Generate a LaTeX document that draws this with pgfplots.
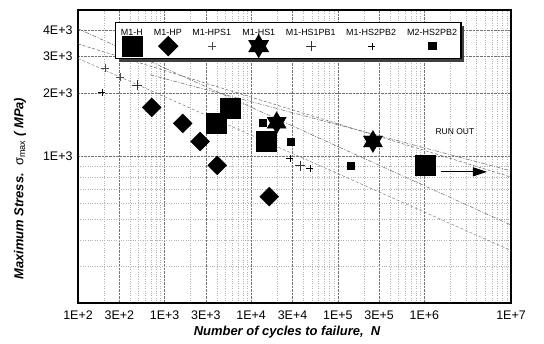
\documentclass[border=0pt]{standalone}
\usepackage{pgfplots}
\pgfplotsset{compat=1.18}
\usepackage{fontspec}
\setmainfont{Liberation Sans}
\usetikzlibrary{arrows.meta,shadows}
\pgfdeclareplotmark{hexstar}{%
  \pgfpathmoveto{\pgfqpointpolar{90}{\pgfplotmarksize}}%
  \pgfpathlineto{\pgfqpointpolar{210}{\pgfplotmarksize}}%
  \pgfpathlineto{\pgfqpointpolar{330}{\pgfplotmarksize}}%
  \pgfpathclose
  \pgfpathmoveto{\pgfqpointpolar{270}{\pgfplotmarksize}}%
  \pgfpathlineto{\pgfqpointpolar{30}{\pgfplotmarksize}}%
  \pgfpathlineto{\pgfqpointpolar{150}{\pgfplotmarksize}}%
  \pgfpathclose
  \pgfusepathqfillstroke
}
\pgfplotsset{legimg/.style={legend image code/.code={\path (0pt,-25pt) (0pt,10pt); \draw[overlay,##1] plot coordinates {(#1,-13pt)};}}}
\begin{document}
\begin{tikzpicture}
\begin{axis}[
  scale only axis, width=433bp, height=293bp,
  xmode=log, ymode=log,
  xmin=100, xmax=1e7, ymin=200, ymax=5000,
  xtick={100,300,1000,3000,10000,30000,100000,300000,1000000,10000000},
  xticklabels={1E+2,3E+2,1E+3,3E+3,1E+4,3E+4,1E+5,3E+5,1E+6,1E+7},
  ytick={1000,2000,3000,4000},
  yticklabels={1E+3,2E+3,3E+3,4E+3},
  minor xtick={200,400,500,600,700,800,900,2000,4000,5000,6000,7000,8000,9000,20000,40000,50000,60000,70000,80000,90000,200000,400000,500000,600000,700000,800000,900000,2000000,3000000,4000000,5000000,6000000,7000000,8000000,9000000},
  minor ytick={300,400,500,600,700,800,900},
  major tick length=0pt, minor tick length=0pt,
  grid=both,
  major grid style={black!55, densely dotted, line width=0.5bp},
  minor grid style={black!30, dotted, line width=0.4bp},
  axis line style={line width=2.5bp},
  tick label style={font=\fontsize{12.5}{14}\selectfont},
  xticklabel style={yshift=-4bp},
  yticklabel style={xshift=-2bp},
  xlabel={\textbf{\textit{Number of cycles to failure,~~N}}},
  xlabel style={font=\fontsize{13}{15}\selectfont, at={(axis description cs:0.483,-0.099)}, anchor=center},
  ylabel={\textbf{\textit{Maximum Stress.}}~~σ\textsubscript{max}~\textbf{\textit{( MPa)}}},
  ylabel style={font=\fontsize{13}{15}\selectfont, at={(axis description cs:-0.134,0.39)}, anchor=center, rotate=0},
  legend columns=7,
  legend style={at={(axis description cs:0.0855,0.959)}, anchor=north west,
    draw=black, line width=1.2bp, fill=white,
    font=\fontsize{9}{10}\selectfont,
    inner xsep=2bp, inner ysep=0bp,
    general shadow={fill=black!75, shadow xshift=3bp, shadow yshift=-3bp},
    /tikz/every even column/.append style={column sep=6bp}},
]
% trend lines
\addplot[forget plot, black!60, dash pattern=on 4pt off 1.5pt on 1pt off 1.5pt, line width=0.5bp] coordinates {(100,4070) (1e7,471)};
\addplot[forget plot, black!60, densely dashed, line width=0.5bp] coordinates {(100,3445) (1e7,798)};
\addplot[forget plot, black!50, dash pattern=on 3pt off 2pt, line width=0.5bp] coordinates {(100,2940) (1e7,356)};
\addplot[forget plot, black!60, dash pattern=on 4pt off 1.5pt on 1pt off 1.5pt, line width=0.5bp] coordinates {(678,2455) (1e7,854)};
% data
\addplot[only marks, mark=square*, mark size=10bp, black, legimg=14pt]
  coordinates {(3926,1449) (5690,1701) (14830,1179) (1020000,907)};
\addlegendentry{M1-H}
\addplot[only marks, mark=square*, mark size=6.7bp, mark options={rotate=45}, black, legimg=17pt]
  coordinates {(709,1715) (1618,1438) (2565,1179) (4064,907) (16180,643)};
\addlegendentry{M1-HP}
\addplot[only marks, mark=+, mark size=4bp, black!70, line width=0.5bp, legimg=22pt]
  coordinates {(205,2630) (305,2400)};
\addlegendentry{M1-HPS1}
\addplot[only marks, mark=hexstar, mark size=11bp, black, legimg=19pt]
  coordinates {(19680,1449) (254600,1179)};
\addlegendentry{M1-HS1}
\addplot[only marks, mark=+, mark size=5bp, black!80, line width=0.6bp, legimg=28pt]
  coordinates {(480,2193) (36640,904)};
\addlegendentry{M1-HS1PB1}
\addplot[only marks, mark=+, mark size=3.5bp, black, line width=0.6bp, legimg=28pt]
  coordinates {(189,2028) (28050,978) (47700,874)};
\addlegendentry{M1-HS2PB2}
\addplot[only marks, mark=square*, mark size=3.5bp, black, legimg=28pt]
  coordinates {(13580,1449) (28580,1179) (140900,907)};
\addlegendentry{M2-HS2PB2}
\node[font=\fontsize{8.5}{10}\selectfont] at (axis cs:2250000,1310) {RUN OUT};
\draw[black, line width=0.8bp, -{Triangle[length=14bp,width=9bp]}] (axis cs:1556000,845) -- (axis cs:5280000,845);
\end{axis}
\pgfresetboundingbox
\path ([shift={(-78bp,-41bp)}]current axis.south west) rectangle ([shift={(33bp,10bp)}]current axis.north east);
\end{tikzpicture}
\end{document}
